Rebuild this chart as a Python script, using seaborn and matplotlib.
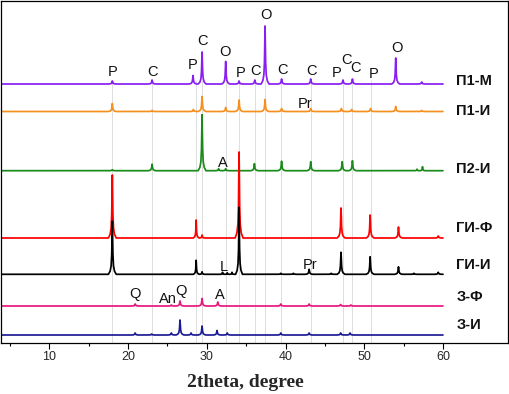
import numpy as np
import pandas as pd
import matplotlib
matplotlib.use("Agg")
import matplotlib.pyplot as plt
import seaborn as sns

# ---------------- data ----------------
series_names = ["П1-М", "П1-И", "П2-И", "ГИ-Ф", "ГИ-И", "З-Ф", "З-И"]
series_colors = ["#8a1ef2", "#f5901e", "#1a8a1a", "#ff0000", "#000000", "#e8177d", "#1c1c94"]
# vertical offset (baseline) of every stacked pattern
baselines = [259.0, 231.5, 172.3, 105.0, 68.7, 37.0, 8.0]

p1m_pos = [18.0, 23.05, 28.25, 29.4, 32.4, 34.1, 36.1, 37.4, 39.5, 43.2, 47.3, 48.5, 54.0, 57.3]
p1m_int = [3, 4, 8.5, 32, 22.5, 3, 4, 58, 5, 5, 4, 5, 26, 2]

p1i_pos = [18.0, 23.05, 28.3, 29.4, 32.4, 34.1, 37.4, 39.5, 43.2, 47.1, 48.4, 50.8, 54.0, 57.3]
p1i_int = [8, 1, 2, 15, 4, 11.5, 12, 3, 3, 3, 2, 3, 5, 1]

p2i_pos = [18.0, 23.05, 29.4, 31.5, 32.4, 36.05, 39.5, 43.2, 47.2, 48.5, 56.7, 57.4]
p2i_int = [1, 6.5, 56, 2, 2, 7, 9.5, 9, 9, 10, 1.5, 4]

gif_pos = [18.0, 28.65, 29.4, 34.1, 47.05, 50.75, 54.35, 59.4]
gif_int = [63, 18, 3, 86, 30, 23, 11, 2]

gii_pos = [18.0, 28.65, 29.4, 32.0, 32.6, 33.2, 34.1, 39.4, 41.0, 43.0, 45.8, 47.05, 50.75, 54.35, 56.3, 59.4]
gii_int = [53, 14, 2.5, 2, 1.5, 2, 67, 1, 1, 5, 1, 22, 17.5, 7.5, 1, 2]

zf_pos = [20.9, 25.5, 26.6, 29.4, 31.4, 39.4, 43.0, 47.0, 48.3]
zf_int = [2, 1, 5, 7.5, 4, 2, 2, 1.5, 1]

zi_pos = [20.9, 23.0, 25.5, 26.6, 28.0, 29.4, 31.3, 32.6, 39.4, 43.0, 47.0, 48.2]
zi_int = [2, 1, 2, 15, 2, 9, 4.5, 2, 2, 2, 2, 2]

peak_positions = [p1m_pos, p1i_pos, p2i_pos, gif_pos, gii_pos, zf_pos, zi_pos]
peak_heights = [p1m_int, p1i_int, p2i_int, gif_int, gii_int, zf_int, zi_int]
scan_range = (3.9, 60.0)

# phase marks: letter, 2theta, height
mark_text = ["P", "C", "P", "C", "O", "P", "C", "O", "C", "C", "P", "C", "C", "P", "O",
             "Pr", "A", "L", "Pr", "Q", "An", "Q", "A"]
mark_x = [18.0, 23.05, 28.25, 29.5, 32.3, 34.25, 36.2, 37.5, 39.6, 43.3, 46.5, 47.8, 48.9, 51.2, 54.2,
          42.5, 32.0, 32.2, 43.1, 20.9, 25.0, 26.75, 31.7]
mark_y = [271, 271, 278, 302, 291, 270, 272, 328, 273, 272, 270, 283, 275, 269, 295,
          239, 180, 76, 78, 49, 44, 52, 48]

# dotted reference lines
ref_lines = [17.95, 23.05, 28.6, 29.4, 32.45, 34.1, 36.1, 37.4, 39.45, 43.2, 47.35, 48.5, 50.8]

# ---------------- build profiles (peak shape is a drawing style) ----------------
shape_dx = [-1.0, -0.55, -0.3, -0.15, -0.06, 0.0, 0.06, 0.15, 0.3, 0.55, 1.0]
shape_fy = [0.0, 0.06, 0.16, 0.38, 0.78, 1.0, 0.78, 0.38, 0.16, 0.06, 0.0]
max_w = 0.5
rows = []
for name, base, pos, hts in zip(series_names, baselines, peak_positions, peak_heights):
    pk = sorted(zip(pos, hts))
    xs = [scan_range[0]]
    ys = [base]
    for i, (p, h) in enumerate(pk):
        left_gap = p - pk[i - 1][0] if i > 0 else 9.0
        right_gap = pk[i + 1][0] - p if i < len(pk) - 1 else 9.0
        w = min(max_w, left_gap / 2 - 0.01, right_gap / 2 - 0.01)
        for dx, fy in zip(shape_dx, shape_fy):
            xs.append(p + dx * w)
            ys.append(base + fy * h)
    xs.append(scan_range[1])
    ys.append(base)
    for x, y in zip(xs, ys):
        rows.append({"theta": x, "I": y, "sample": name})
df = pd.DataFrame(rows)

# ---------------- plot ----------------
sns.set_theme(style="white")
plt.rcParams["font.family"] = ["Liberation Sans", "DejaVu Sans"]

fig = plt.figure(figsize=(5.09, 3.94), dpi=100)
ax = fig.add_axes([1 / 509, 1 - 343 / 394, 507 / 509, 342 / 394])

ax.vlines(ref_lines, 0, 263, colors="#d8d8d8", linewidth=0.6, zorder=0)

sns.lineplot(data=df, x="theta", y="I", hue="sample", hue_order=series_names,
             palette=series_colors, estimator=None, sort=False, linewidth=1.25,
             legend=False, ax=ax)

for t, x, y in zip(mark_text, mark_x, mark_y):
    ax.text(x, y, t, ha="center", va="center", fontsize=10.5, color="#111111")

label_px = [80.7, 110.7, 169.0, 227.7, 264.7, 296.7, 325.0]
for name, py in zip(series_names, label_px):
    ax.text(61.7, 343 - py, name, ha="left", va="center", fontsize=10.5,
            fontweight="bold", color="#111111")

ax.set_xlim(3.86, 68.26)
ax.set_ylim(0, 342)
ax.set_yticks([])
ax.set_ylabel("")
ax.set_xticks([10, 20, 30, 40, 50, 60])
ax.set_xticks([5, 15, 25, 35, 45, 55], minor=True)
ax.tick_params(axis="x", which="major", direction="out", length=4.5, width=0.8,
               labelsize=9, pad=1.5, color="black", bottom=True)
ax.tick_params(axis="x", which="minor", direction="out", length=2.5, width=0.8,
               color="black", bottom=True)
for s in ax.spines.values():
    s.set_visible(True)
    s.set_color("black")
    s.set_linewidth(0.9)

ax.set_xlabel("2theta, degree", fontsize=14, fontweight="bold",
              family=["Liberation Serif", "DejaVu Serif"])
ax.xaxis.set_label_coords(0.482, -0.092)

fig.savefig("out.png", dpi=100)
